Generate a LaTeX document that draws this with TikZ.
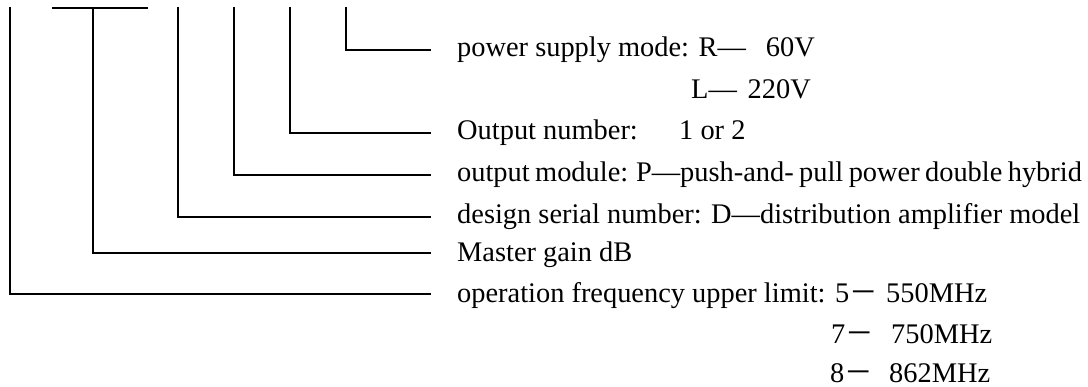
\documentclass[tikz,border=0pt]{standalone}
\usepackage{fontspec}
\setmainfont{Liberation Serif}
\newfontfamily\cjkfont{Noto Sans CJK SC}
\newcommand{\lblsize}{\fontsize{28.4}{34}\selectfont}
\begin{document}
\begin{tikzpicture}[x=1pt,y=-1pt,
  ln/.style={line width=2pt, line join=miter},
  lbl/.style={anchor=base west, inner sep=0pt, font=\lblsize},
  lble/.style={anchor=base east, inner sep=0pt, font=\lblsize}]
\useasboundingbox (0,0) rectangle (1088,387);
% top bar
\coordinate (b1) at (52,8);
\coordinate (b2) at (148,8);
\draw[ln] (b1) -- (b2);
% brackets
\foreach \n/\x/\y in {a/10/294, b/93/253, c/178/217, d/234/175, e/290/133, f/346/50}{
  \coordinate (\n top) at (\x,7);
  \coordinate (\n corner) at (\x,\y);
  \coordinate (\n end) at (431,\y);
  \draw[ln] (\n top) -- (\n corner) -- (\n end);
}
% labels
\node[lbl] (r1) at (457,57) {power supply mode: R—};
\node[lble] (r1b) at (815,57) {60V};
\node[lbl] (r2) at (691,99) {L—};
\node[lble] (r2b) at (811,99) {220V};
\node[lbl] (r3) at (457,140) {Output number:};
\node[lbl] (r3b) at (679,140) {1 or 2};
\node[lbl] (r4) at (457,182) {\spaceskip=0.19em\relax output module: P—push-and- pull power double hybrid};
\node[lbl] (r5) at (457,224) {design serial number: D—distribution amplifier model};
\node[lbl] (r6) at (457,262) {Master gain dB};
\node[lbl] (r7) at (457,303) {operation frequency upper limit: 5{\cjkfont －}};
\node[lbl] (r7b) at (886,303) {550MHz};
\node[lbl] (r8) at (831,344) {7{\cjkfont －}};
\node[lbl] (r8b) at (891,344) {750MHz};
\node[lbl] (r9) at (830,383) {8{\cjkfont －}};
\node[lbl] (r9b) at (889,383) {862MHz};
\end{tikzpicture}
\end{document}
